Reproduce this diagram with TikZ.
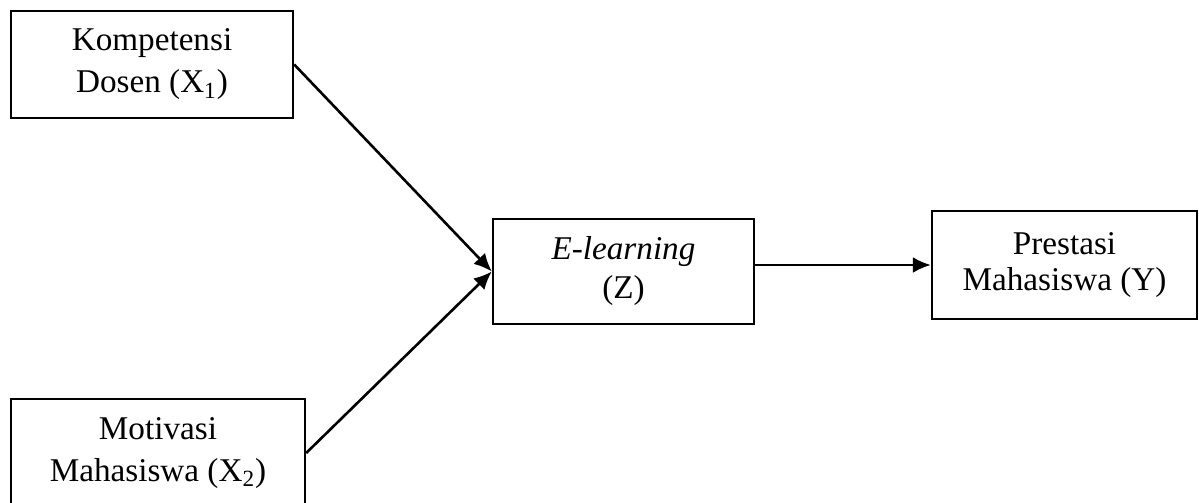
\documentclass[tikz,border=0pt]{standalone}
\usepackage{fontspec}
\setmainfont{Liberation Serif}
\usetikzlibrary{arrows.meta}
\begin{document}
\begin{tikzpicture}[x=0.5pt,y=-0.5pt,
  box/.style={draw=black, line width=1.2pt, rectangle, align=center, inner sep=0pt,
    font=\fontsize{16.6}{21}\selectfont},
  conn/.style={line width=1.3pt, -{Latex[length=9pt,width=8pt]}}]
\clip (0,0) rectangle (1199,503);
\node[box, minimum width=141pt, minimum height=53.5pt] (x1) at (152,64.5) {Kompetensi\\Dosen (X\textsubscript{1})};
\node[box, minimum width=147pt, minimum height=54pt] (x2) at (158,453) {Motivasi\\Mahasiswa (X\textsubscript{2})};
\node[box, minimum width=130.5pt, minimum height=52.5pt, font=\fontsize{16.6}{19.5}\selectfont] (z) at (623.5,271.5) {\textit{E-learning}\\(Z)};
\node[box, minimum width=132.5pt, minimum height=54pt, font=\fontsize{16.6}{18}\selectfont] (y) at (1064.5,265) {Prestasi\\Mahasiswa (Y)};
\draw[conn] (x1.east) -- (z.west);
\draw[conn] (x2.east) -- (z.west);
\draw[conn] (z.east |- y.west) -- (y.west);
\end{tikzpicture}
\end{document}
